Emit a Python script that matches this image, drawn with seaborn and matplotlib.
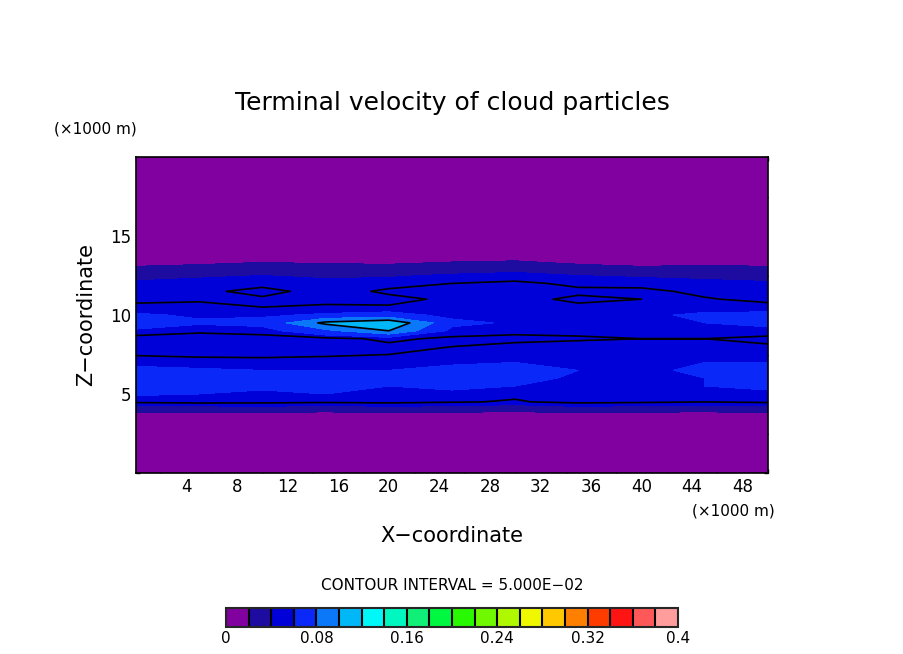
import numpy as np
import matplotlib
matplotlib.use("Agg")
import matplotlib.pyplot as plt
import seaborn as sns
from matplotlib.colors import ListedColormap, BoundaryNorm

sns.set_theme(style="white")
plt.rcParams['font.family'] = ['DejaVu Sans']
plt.rcParams['text.color'] = 'black'
plt.rcParams['axes.labelcolor'] = 'black'
plt.rcParams['xtick.color'] = 'black'
plt.rcParams['ytick.color'] = 'black'

x_km = [0, 5, 10, 15, 20, 25, 30, 35, 40, 45, 50]
z_km = [0, 1, 2, 3, 3.5, 4, 4.5, 5, 5.5, 6, 6.5, 7, 7.5, 8, 8.5, 9, 9.5, 10,
        10.5, 11, 11.5, 12, 12.5, 13, 13.5, 14, 15, 20]
field = [
    [0]*11, [0]*11, [0]*11, [0]*11,
    [0.005, 0.005, 0.004, 0.006, 0.005, 0.004, 0.006, 0.005, 0.004, 0.006, 0.005],
    [0.028, 0.026, 0.03, 0.025, 0.03, 0.028, 0.024, 0.03, 0.027, 0.025, 0.028],
    [0.052, 0.054, 0.053, 0.052, 0.053, 0.051, 0.049, 0.053, 0.052, 0.05, 0.052],
    [0.062, 0.06, 0.058, 0.06, 0.055, 0.058, 0.052, 0.056, 0.054, 0.055, 0.058],
    [0.066, 0.064, 0.062, 0.062, 0.06, 0.062, 0.06, 0.06, 0.058, 0.06, 0.062],
    [0.07, 0.066, 0.064, 0.064, 0.062, 0.066, 0.064, 0.058, 0.058, 0.06, 0.066],
    [0.064, 0.062, 0.06, 0.06, 0.06, 0.064, 0.066, 0.06, 0.058, 0.062, 0.065],
    [0.056, 0.054, 0.053, 0.053, 0.055, 0.058, 0.06, 0.058, 0.057, 0.06, 0.06],
    [0.049, 0.048, 0.048, 0.049, 0.05, 0.052, 0.055, 0.055, 0.056, 0.058, 0.056],
    [0.044, 0.044, 0.045, 0.046, 0.048, 0.05, 0.052, 0.053, 0.054, 0.055, 0.051],
    [0.046, 0.045, 0.046, 0.047, 0.052, 0.048, 0.048, 0.049, 0.05, 0.05, 0.048],
    [0.056, 0.052, 0.054, 0.075, 0.1, 0.056, 0.052, 0.052, 0.053, 0.053, 0.054],
    [0.075, 0.062, 0.065, 0.105, 0.118, 0.064, 0.058, 0.056, 0.058, 0.06, 0.066],
    [0.062, 0.058, 0.058, 0.062, 0.066, 0.056, 0.056, 0.056, 0.058, 0.062, 0.064],
    [0.053, 0.052, 0.05, 0.052, 0.051, 0.051, 0.052, 0.052, 0.055, 0.056, 0.054],
    [0.047, 0.049, 0.048, 0.046, 0.047, 0.052, 0.053, 0.048, 0.05, 0.051, 0.047],
    [0.046, 0.047, 0.054, 0.045, 0.052, 0.054, 0.056, 0.052, 0.053, 0.047, 0.045],
    [0.042, 0.044, 0.046, 0.043, 0.046, 0.05, 0.052, 0.048, 0.046, 0.044, 0.042],
    [0.036, 0.038, 0.04, 0.038, 0.038, 0.042, 0.045, 0.04, 0.038, 0.036, 0.034],
    [0.022, 0.025, 0.03, 0.028, 0.026, 0.03, 0.032, 0.026, 0.022, 0.024, 0.022],
    [0.01, 0.012, 0.015, 0.012, 0.012, 0.016, 0.018, 0.012, 0.01, 0.01, 0.01],
    [0]*11, [0]*11, [0]*11,
]
colors = ["#8000a0", "#1e0ca0", "#0000d8", "#0a28f8", "#0a78f8", "#00b8f8",
          "#00f8f8", "#00f8c0", "#10f078", "#00f840", "#28f800", "#70f800",
          "#b0f800", "#f0f800", "#ffc800", "#ff8000", "#ff3c00", "#ff1414",
          "#ff5858", "#ff9c9c"]
levels = np.linspace(0, 0.4, 21)
line_levels = [0.05, 0.1]
cbar_ticks = [0, 0.08, 0.16, 0.24, 0.32, 0.4]

X, Z = np.meshgrid(np.array(x_km), np.array(z_km))
F = np.array(field)
cmap = ListedColormap(colors)
norm = BoundaryNorm(levels, cmap.N)

fig = plt.figure(figsize=(9.04, 6.54), dpi=100)
ax = fig.add_axes([136/904, 1-473/654, 632/904, 316/654])
ax.contourf(X, Z, F, levels=levels, cmap=cmap, norm=norm, extend="neither")
ax.contour(X, Z, F, levels=line_levels, colors="black", linewidths=1.2)
ax.set_xlim(0, 50)
ax.set_ylim(0, 20)
ax.set_xticks(range(4, 50, 4))
ax.set_yticks([5, 10, 15])
ax.tick_params(direction="in", length=6, labelsize=12, colors="black",
               top=True, right=True, bottom=True, left=True)
ax.xaxis.set_minor_locator(matplotlib.ticker.MultipleLocator(2))
ax.yaxis.set_minor_locator(matplotlib.ticker.MultipleLocator(2.5))
ax.tick_params(which="minor", direction="in", length=3,
               top=True, right=True, bottom=True, left=True)
for s in ax.spines.values():
    s.set_color("black"); s.set_linewidth(1.2)
ax.set_xlabel("X−coordinate", fontsize=15, labelpad=22)
ax.set_ylabel("Z−coordinate", fontsize=15, labelpad=10)
fig.text(0.5, 1-103/654, "Terminal velocity of cloud particles", ha="center",
         va="center", fontsize=18)
fig.text(95/904, 1-129/654, "(×1000 m)", ha="center", va="center", fontsize=11)
fig.text(733/904, 1-511/654, "(×1000 m)", ha="center", va="center", fontsize=11)
fig.text(452/904, 1-585/654, "CONTOUR INTERVAL = 5.000E−02", ha="center",
         va="center", fontsize=11)

cax = fig.add_axes([226/904, 1-627/654, 452/904, 19/654])
sm = matplotlib.cm.ScalarMappable(norm=norm, cmap=cmap)
cb = fig.colorbar(sm, cax=cax, orientation="horizontal", ticks=cbar_ticks,
                  drawedges=True)
cb.dividers.set_color("black"); cb.dividers.set_linewidth(1.5)
cb.outline.set_linewidth(1.5)
cb.set_ticks(cbar_ticks)
cax.set_xticklabels(["0", "0.08", "0.16", "0.24", "0.32", "0.4"])
cax.xaxis.set_minor_locator(matplotlib.ticker.NullLocator())
cax.tick_params(which="both", length=0, labelsize=11, pad=3)
fig.savefig("out.png", dpi=100, facecolor="white")
